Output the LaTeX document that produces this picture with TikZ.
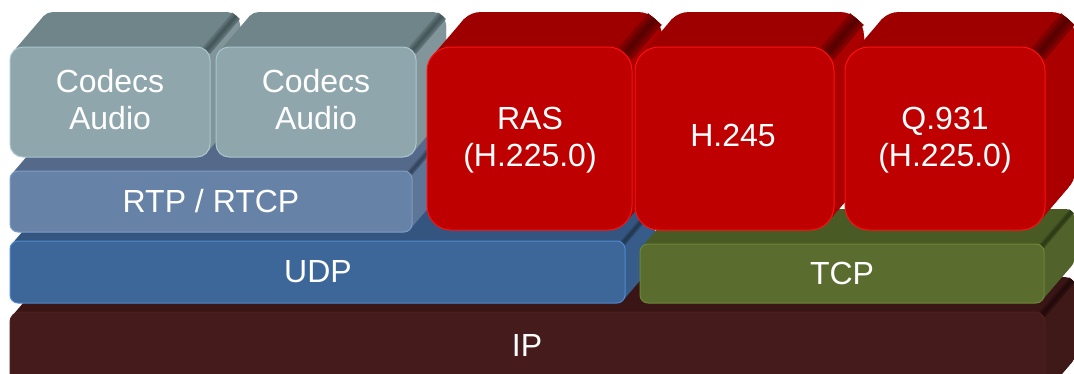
\documentclass[tikz,border=0pt]{standalone}
\usepackage{fontspec}
\setmainfont{Liberation Sans}
\definecolor{cdF}{HTML}{8FA6AC}\definecolor{cdT}{HTML}{6F8589}\definecolor{cdS}{HTML}{46585C}\definecolor{cdB}{HTML}{A9C7CE}
\definecolor{rtF}{HTML}{6782A7}\definecolor{rtT}{HTML}{55698A}\definecolor{rtS}{HTML}{33445C}\definecolor{rtB}{HTML}{7E9CC4}
\definecolor{udF}{HTML}{3D6699}\definecolor{udT}{HTML}{34557F}\definecolor{udS}{HTML}{22384F}\definecolor{udB}{HTML}{4F89D0}
\definecolor{tcF}{HTML}{5A6D2F}\definecolor{tcT}{HTML}{4A5A25}\definecolor{tcS}{HTML}{2E3916}\definecolor{tcB}{HTML}{6D8538}
\definecolor{ipF}{HTML}{461B1B}\definecolor{ipT}{HTML}{3A1515}\definecolor{ipS}{HTML}{220A0A}\definecolor{ipB}{HTML}{4E2020}
\definecolor{rdF}{HTML}{BE0000}\definecolor{rdT}{HTML}{9E0000}\definecolor{rdS}{HTML}{5A0000}\definecolor{rdB}{HTML}{FF1010}
\def\dx{30}\def\dy{35}
% x1 y1 x2 y2 r front top crease border
\newcommand\blk[9]{%
 \fill[#7,rounded corners=#5pt] ({#1+\dx},{#2-\dy}) rectangle ({#3+\dx},{#4-\dy});
 \fill[#7] ({#1+0.2929*#5},{#2+0.2929*#5}) -- ({#3-0.2929*#5},{#4-0.2929*#5}) -- ({#3-0.2929*#5+\dx},{#4-0.2929*#5-\dy}) -- ({#1+0.2929*#5+\dx},{#2+0.2929*#5-\dy}) -- cycle;
 \fill[#6!90!black] ({#3-0.2929*#5},{#2+0.2929*#5}) -- ({#3-0.2929*#5+\dx},{#2+0.2929*#5-\dy}) -- ({#3+\dx},{#2+#5-\dy}) -- ({#3+\dx},{#4-#5-\dy}) -- ({#3-0.2929*#5+\dx},{#4-0.2929*#5-\dy}) -- ({#3-0.2929*#5},{#4-0.2929*#5}) -- ({#3},{#4-#5}) -- ({#3},{#2+#5}) -- cycle;
 \draw[line width=#5*0.75pt, #8!45!#7] ({#3-0.2929*#5},{#2+0.2929*#5}) -- ({#3-0.2929*#5+\dx},{#2+0.2929*#5-\dy});
 \draw[line width=#5*0.45pt, #8!75!#7] ({#3-0.2929*#5},{#2+0.2929*#5}) -- ({#3-0.2929*#5+\dx},{#2+0.2929*#5-\dy});
 \draw[line width=#5*0.2pt, #8] ({#3-0.2929*#5},{#2+0.2929*#5}) -- ({#3-0.2929*#5+\dx},{#2+0.2929*#5-\dy});
 \filldraw[fill=#6, draw=#9, line width=1pt, rounded corners=#5pt] (#1,#2) rectangle (#3,#4);
}
\tikzset{lbl/.style={text=white, align=center, inner sep=0pt, font=\fontsize{32}{37}\selectfont}}
\begin{document}
\begin{tikzpicture}[x=1pt,y=-1pt]
\useasboundingbox (0,0) rectangle (1074,373);
\clip (0,0) rectangle (1074,373);
\blk{10}{312}{1045}{400}{10}{ipF}{ipT}{ipS}{ipB}
\blk{10}{241}{625}{303}{8}{udF}{udT}{udS}{udB}
\blk{640}{244}{1044}{303}{8}{tcF}{tcT}{tcS}{tcB}
\blk{10}{171}{412}{232}{8}{rtF}{rtT}{rtS}{rtB}
\blk{10}{47}{210}{157}{13}{cdF}{cdT}{cdS}{cdB}
\blk{216}{47}{416}{157}{13}{cdF}{cdT}{cdS}{cdB}
\blk{427}{47}{632}{230}{24}{rdF}{rdT}{rdS}{rdB}
\blk{635}{47}{834}{230}{24}{rdF}{rdT}{rdS}{rdB}
\blk{845}{47}{1045}{230}{24}{rdF}{rdT}{rdS}{rdB}
\node[lbl] (c1) at (110,100) {Codecs\\Audio};
\node[lbl] (c2) at (316,100) {Codecs\\Audio};
\node[lbl] (rtp) at (211,201) {RTP / RTCP};
\node[lbl] (udp) at (318,272) {UDP};
\node[lbl] (tcp) at (842,273) {TCP};
\node[lbl] (ip) at (527,345) {IP};
\node[lbl] (ras) at (530,140) {RAS\\(H.225.0)};
\node[lbl] (h245) at (733,135) {H.245};
\node[lbl] (q931) at (945,140) {Q.931\\(H.225.0)};
\end{tikzpicture}
\end{document}
